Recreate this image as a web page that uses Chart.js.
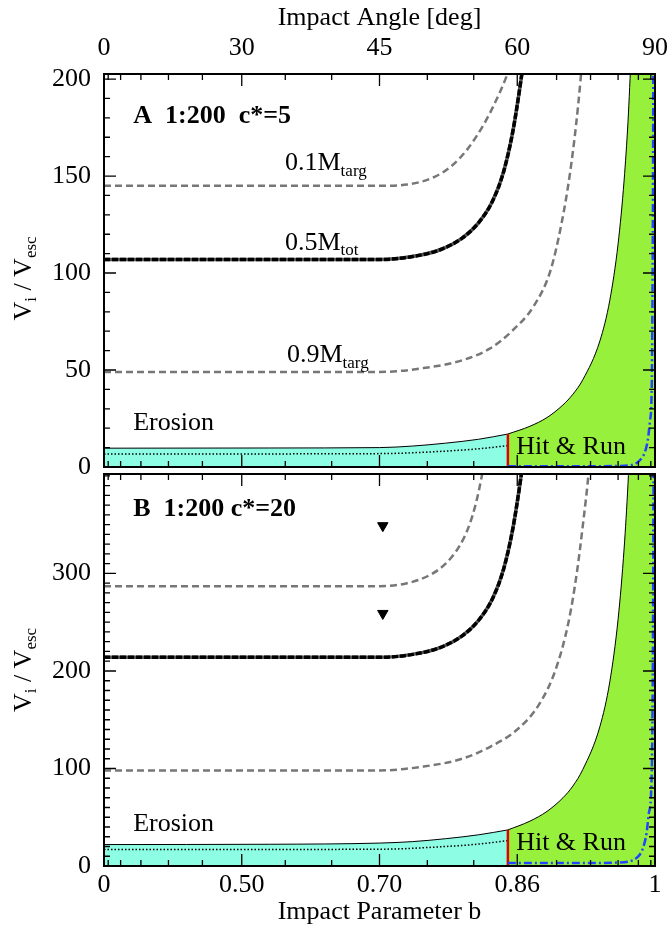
<!DOCTYPE html>
<html>
<head>
<meta charset="utf-8">
<script src="https://cdn.jsdelivr.net/npm/chart.js@4.4.1/dist/chart.umd.min.js"></script>
<style>
  html, body { margin: 0; padding: 0; background: #fff; }
  #wrap { position: relative; width: 668px; height: 930px; }
  .panel { position: absolute; left: 0; width: 668px; }
</style>
</head>
<body>
<div id="wrap">
  <div class="panel" style="top:0;height:485px"><canvas id="chartA"></canvas></div>
  <div class="panel" style="top:467px;height:463px"><canvas id="chartB"></canvas></div>
</div>
<script>
// x axis is linear in b^2 (= sin^2 of impact angle)
const angleMajor = [0, 30, 45, 60, 90];
const angleMinor = [5, 10, 15, 20, 25, 35, 40, 50, 55, 65, 70, 75, 80, 85];
const angleLabels = ['0', '30', '45', '60', '90'];
const bLabels = ['0', '0.50', '0.70', '0.86', '1'];
const yTicksA = [0, 50, 100, 150, 200];
const yTicksB = [0, 100, 200, 300];

// hit & run threshold (b^2) and red line heights
const redBSq = 0.733;
const redTopA = 17;
const redTopB = 37;

// panel A  (1:200, c*=5)
const bSqA01 = [0, 0.50, 0.55, 0.60, 0.63, 0.66, 0.69, 0.71, 0.73, 0.75];
const velA01 = [145, 145, 145.6, 149.6, 155, 164, 177, 188, 201, 217];
const bSqA05 = [0, 0.50, 0.56, 0.61, 0.65, 0.68, 0.705, 0.725, 0.742, 0.757, 0.772];
const velA05 = [107, 107, 108.5, 112, 118, 126, 137, 152, 173, 200, 232];
const bSqA09 = [0, 0.50, 0.58, 0.65, 0.70, 0.74, 0.78, 0.81, 0.83, 0.845, 0.857, 0.865, 0.875];
const velA09 = [49, 49, 51, 55, 61, 70, 83, 101, 125, 150, 177, 200, 235];
const bSqEdgeA = [0, 0.3, 0.5, 0.56, 0.62, 0.68, 0.733, 0.773, 0.804, 0.833, 0.851, 0.869, 0.90, 0.918, 0.933, 0.944, 0.951, 0.957, 0.965, 1];
const velEdgeA = [9.7, 9.8, 10, 10.8, 12.3, 14.3, 17, 21, 25.5, 32, 37.5, 45, 65, 86, 115, 148, 178, 212, 280, 3000];
const bSqDotA = [0, 0.5, 0.62, 0.68, 0.733];
const velDotA = [6.7, 6.9, 8.2, 9.4, 11];
const bSqBlueA = [0.733, 0.85, 0.93, 0.96, 0.973, 0.982, 0.987, 0.991, 0.994, 0.996, 0.998];
const velBlueA = [0.4, 0.4, 0.5, 1.2, 3.6, 8, 14, 24, 40, 120, 300];

// panel B  (1:200, c*=20)
const bSqB01 = [0, 0.50, 0.55, 0.59, 0.62, 0.645, 0.662, 0.675, 0.685, 0.695];
const velB01 = [287, 287, 290, 298, 310, 328, 348, 372, 398, 430];
const bSqB05 = [0, 0.50, 0.56, 0.61, 0.65, 0.68, 0.705, 0.725, 0.742, 0.757, 0.772];
const velB05 = [214, 214, 217, 224, 236, 252, 274, 304, 346, 400, 464];
const bSqB09 = [0, 0.50, 0.58, 0.65, 0.70, 0.75, 0.79, 0.82, 0.843, 0.858, 0.870, 0.879, 0.889];
const velB09 = [98, 98, 102, 110, 122, 140, 166, 202, 250, 300, 354, 400, 470];
const bSqEdgeB = [0, 0.3, 0.5, 0.56, 0.62, 0.68, 0.733, 0.773, 0.804, 0.833, 0.851, 0.869, 0.90, 0.918, 0.933, 0.944, 0.951, 0.957, 0.965, 1];
const velEdgeB = [22, 22.3, 23.5, 25, 28, 32, 37, 46, 56, 70, 82, 99, 143, 189, 253, 326, 392, 466, 616, 6000];
const bSqDotB = [0, 0.5, 0.62, 0.68, 0.733];
const velDotB = [16.8, 17.2, 20, 22.5, 26];
const bSqBlueB = [0.733, 0.85, 0.93, 0.955, 0.968, 0.978, 0.985, 0.989, 0.993, 0.996, 0.998];
const velBlueB = [3, 3, 3.5, 5, 9, 18, 35, 55, 76, 200, 500];
const bSqTriB = [0.506, 0.506];
const velTriB = [349, 259];

const FONT = "'Liberation Serif', 'Times New Roman', serif";
const CYAN = '#8dfde4';
const GREEN = '#96f03c';
const GRAY = '#777777';

const sinSq = d => Math.pow(Math.sin(d * Math.PI / 180), 2);
const pts = (xs, ys) => xs.map((x, i) => ({ x: x, y: ys[i] }));

function lineSet(data, color, width, dash, order) {
  return {
    data: data, borderColor: color, borderWidth: width, borderDash: dash || [],
    pointRadius: 0, fill: false, cubicInterpolationMode: 'monotone', order: order || 1
  };
}

function buildDatasets(p) {
  const edge = pts(p.edgeX, p.edgeY);
  return [
    { data: edge.filter(d => d.x <= redBSq), borderColor: '#000', borderWidth: 1, pointRadius: 0,
      fill: 'origin', backgroundColor: CYAN, cubicInterpolationMode: 'monotone', order: 10 },
    { data: edge.filter(d => d.x >= redBSq), borderColor: '#000', borderWidth: 1, pointRadius: 0,
      fill: 'origin', backgroundColor: GREEN, cubicInterpolationMode: 'monotone', order: 9 },
    lineSet(pts(p.dotX, p.dotY), '#000', 1.5, [1.5, 2], 5),
    lineSet([{ x: redBSq, y: 0 }, { x: redBSq, y: p.redTop }], '#e00000', 2.5, [], 4),
    lineSet(pts(p.blueX, p.blueY), '#2244ff', 2.5, [8, 3, 2, 3], 3),
    lineSet(pts(p.x01, p.y01), GRAY, 2.5, [7, 4], 2),
    lineSet(pts(p.x09, p.y09), GRAY, 2.5, [7, 4], 2),
    lineSet(pts(p.x05, p.y05), '#555', 3.5, [], 2),
    lineSet(pts(p.x05, p.y05), '#000', 3.5, [6, 2], 1)
  ];
}

function drawParts(ctx, parts, x, y, bold) {
  let cx = x;
  parts.forEach(p => {
    ctx.font = (bold ? 'bold ' : '') + (p.sub ? '17px ' : '26px ') + FONT;
    ctx.fillText(p.t, cx, p.sub ? y + 8 : y);
    cx += ctx.measureText(p.t).width;
  });
}
function partsWidth(ctx, parts, bold) {
  let w = 0;
  parts.forEach(p => {
    ctx.font = (bold ? 'bold ' : '') + (p.sub ? '17px ' : '26px ') + FONT;
    w += ctx.measureText(p.t).width;
  });
  return w;
}

const panelDeco = {
  id: 'panelDeco',
  afterDatasetsDraw(chart, args, opts) {
    const { ctx, chartArea: a, scales: { x, y } } = chart;
    ctx.save();
    ctx.strokeStyle = '#000';
    ctx.lineWidth = 1.3;
    ctx.beginPath();
    const xt = angleMajor.map(d => [d, 12]).concat(angleMinor.map(d => [d, 6]));
    xt.forEach(([d, len]) => {
      const px = x.getPixelForValue(sinSq(d));
      ctx.moveTo(px, a.top); ctx.lineTo(px, a.top + len);
      ctx.moveTo(px, a.bottom); ctx.lineTo(px, a.bottom - len);
    });
    for (let v = 0; v <= y.max; v += 10) {
      const len = opts.majors.includes(v) ? 12 : 6;
      const py = y.getPixelForValue(v);
      ctx.moveTo(a.left, py); ctx.lineTo(a.left + len, py);
      ctx.moveTo(a.right, py); ctx.lineTo(a.right - len, py);
    }
    ctx.stroke();
    ctx.lineWidth = 2;
    ctx.strokeRect(a.left, a.top, a.right - a.left, a.bottom - a.top);

    ctx.fillStyle = '#000';
    ctx.textBaseline = 'middle';
    ctx.textAlign = 'left';
    // rotated y title
    const title = [{ t: 'V' }, { t: 'i', sub: true }, { t: ' / V' }, { t: 'esc', sub: true }];
    ctx.save();
    ctx.translate(24, (a.top + a.bottom) / 2 + opts.titleShift);
    ctx.rotate(-Math.PI / 2);
    drawParts(ctx, title, -partsWidth(ctx, title, false) / 2, 0, false);
    ctx.restore();
    // notes
    opts.notes.forEach(n => {
      drawParts(ctx, n.parts, x.getPixelForValue(n.x), y.getPixelForValue(n.y), n.bold);
    });
    ctx.restore();
  }
};

function makeChart(id, p) {
  const top = p.axis === 'top';
  return new Chart(document.getElementById(id), {
    type: 'line',
    data: { datasets: buildDatasets(p) },
    options: {
      responsive: true,
      maintainAspectRatio: false,
      animation: false,
      layout: { padding: { left: 0, right: 13, top: 0, bottom: top ? 18 : 0 } },
      plugins: {
        legend: { display: false },
        tooltip: { enabled: false },
        panelDeco: { majors: p.majors, notes: p.notes, titleShift: p.titleShift }
      },
      scales: {
        x: {
          type: 'linear', position: p.axis, min: 0, max: 1,
          afterBuildTicks: s => { s.ticks = angleMajor.map(d => ({ value: sinSq(d) })); },
          ticks: {
            autoSkip: false, maxRotation: 0, color: '#000', font: { family: FONT, size: 26 },
            padding: top ? 10 : 4,
            callback: (v, i) => (top ? angleLabels : bLabels)[i]
          },
          grid: { display: false, drawTicks: false },
          border: { display: false },
          title: {
            display: true, text: top ? 'Impact Angle [deg]' : 'Impact Parameter b',
            color: '#000', font: { family: FONT, size: 26 },
            padding: top ? { top: 3, bottom: 0 } : { top: 0, bottom: 2 }
          },
          afterFit: s => { s.height = top ? 74 : 64; s.paddingLeft = 0; s.paddingRight = 0; }
        },
        y: {
          type: 'linear', min: 0, max: p.yMax,
          afterBuildTicks: s => { s.ticks = p.majors.map(v => ({ value: v })); },
          ticks: { color: '#000', font: { family: FONT, size: 26 }, padding: 13 },
          grid: { display: false, drawTicks: false },
          border: { display: false },
          afterFit: s => { s.width = 104; s.paddingTop = 0; s.paddingBottom = 0; }
        }
      }
    },
    plugins: [panelDeco]
  });
}

makeChart('chartA', {
  axis: 'top', yMax: 202.6, majors: yTicksA, redTop: redTopA, titleShift: 8,
  x01: bSqA01, y01: velA01, x05: bSqA05, y05: velA05, x09: bSqA09, y09: velA09,
  edgeX: bSqEdgeA, edgeY: velEdgeA, dotX: bSqDotA, dotY: velDotA, blueX: bSqBlueA, blueY: velBlueA,
  notes: [
    { x: 0.053, y: 181, bold: true, parts: [{ t: 'A  1:200  c*=5' }] },
    { x: 0.3285, y: 156.7, parts: [{ t: '0.1M' }, { t: 'targ', sub: true }] },
    { x: 0.3285, y: 115.5, parts: [{ t: '0.5M' }, { t: 'tot', sub: true }] },
    { x: 0.332, y: 57.7, parts: [{ t: '0.9M' }, { t: 'targ', sub: true }] },
    { x: 0.053, y: 22.7, parts: [{ t: 'Erosion' }] },
    { x: 0.748, y: 10.3, parts: [{ t: 'Hit & Run' }] }
  ]
});

const chartB = makeChart('chartB', {
  axis: 'bottom', yMax: 402, majors: yTicksB, redTop: redTopB, titleShift: 0,
  x01: bSqB01, y01: velB01, x05: bSqB05, y05: velB05, x09: bSqB09, y09: velB09,
  edgeX: bSqEdgeB, edgeY: velEdgeB, dotX: bSqDotB, dotY: velDotB, blueX: bSqBlueB, blueY: velBlueB,
  notes: [
    { x: 0.053, y: 366, bold: true, parts: [{ t: 'B  1:200 c*=20' }] },
    { x: 0.053, y: 43.3, parts: [{ t: 'Erosion' }] },
    { x: 0.748, y: 23.2, parts: [{ t: 'Hit & Run' }] }
  ]
});
chartB.data.datasets.push({
  data: pts(bSqTriB, velTriB), showLine: false, pointStyle: 'triangle', rotation: 180,
  pointRadius: 6, backgroundColor: '#000', borderColor: '#000', borderWidth: 1, order: 0
});
chartB.update();
</script>
</body>
</html>
